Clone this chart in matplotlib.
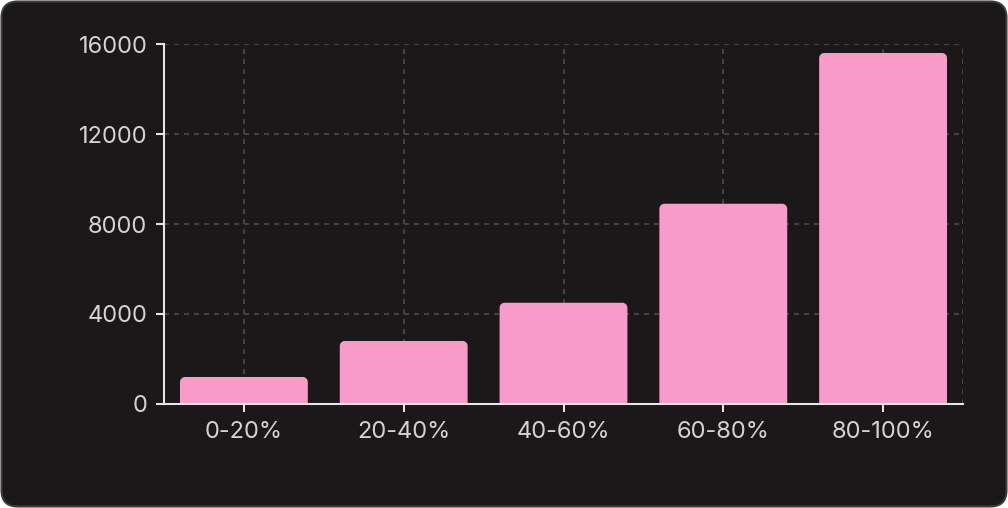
import matplotlib
matplotlib.use("Agg")
import matplotlib.pyplot as plt
from matplotlib.patches import FancyBboxPatch, PathPatch
from matplotlib.path import Path

categories = ["0-20%", "20-40%", "40-60%", "60-80%", "80-100%"]
values = [1200, 2800, 4500, 8900, 15600]
yticks = [0, 4000, 8000, 12000, 16000]

W, H = 1008, 508
fig = plt.figure(figsize=(W / 100, H / 100), dpi=100)
fig.patch.set_facecolor("white")
card = FancyBboxPatch((1.5 / W, 1.5 / H), 1 - 3 / W, 1 - 3 / H,
                      boxstyle="round,pad=0,rounding_size=0.016",
                      transform=fig.transFigure, facecolor="#1b1819",
                      edgecolor="#3d3b3c", linewidth=1.5, zorder=-10,
                      mutation_aspect=W / H)
fig.patches.append(card)

left, right, top, bottom = 164, 963, 44, 404
ax = fig.add_axes([left / W, 1 - bottom / H, (right - left) / W, (bottom - top) / H])
ax.set_zorder(5)
ax.set_facecolor("none")
ax.set_xlim(-0.5, len(categories) - 0.5)
ax.set_ylim(0, 16000)

text_col = "#d4d2d3"
font = "Inter"

# grid
grid_kw = dict(color="#4d4a4b", linewidth=1.2, linestyle=(0, (3, 3)), zorder=1)
for y in yticks[1:]:
    ax.axhline(y, **grid_kw)
for i in range(len(categories)):
    ax.axvline(i, **grid_kw)
ax.axvline(len(categories) - 0.5, **grid_kw)

# bars with rounded top corners
bars = ax.bar(range(len(categories)), values, width=0.8, color="#f99bc9", zorder=2)
fig.canvas.draw()
r_px = 5
inv = ax.transData.inverted()
p0 = inv.transform((0, 0))
p1 = inv.transform((r_px, r_px))
rx, ry = p1[0] - p0[0], p1[1] - p0[1]
k = 0.5523
for b in bars:
    x0, w, h = b.get_x(), b.get_width(), b.get_height()
    x1 = x0 + w
    verts = [(x0, 0), (x0, h - ry),
             (x0, h - ry + k * ry), (x0 + rx - k * rx, h), (x0 + rx, h),
             (x1 - rx, h),
             (x1 - rx + k * rx, h), (x1, h - ry + k * ry), (x1, h - ry),
             (x1, 0), (x0, 0)]
    codes = [Path.MOVETO, Path.LINETO,
             Path.CURVE4, Path.CURVE4, Path.CURVE4,
             Path.LINETO,
             Path.CURVE4, Path.CURVE4, Path.CURVE4,
             Path.LINETO, Path.CLOSEPOLY]
    ax.add_patch(PathPatch(Path(verts, codes), facecolor=b.get_facecolor(),
                           edgecolor="none", zorder=2))
    b.set_visible(False)

for s in ["top", "right"]:
    ax.spines[s].set_visible(False)
for s in ["left", "bottom"]:
    ax.spines[s].set_color("#e6e4e5")
    ax.spines[s].set_linewidth(1.5)
    ax.spines[s].set_zorder(3)

ax.set_xticks(range(len(categories)))
ax.set_xticklabels(categories)
ax.set_yticks(yticks)
ax.set_yticklabels([str(v) for v in yticks])
ax.tick_params(colors="#e6e4e5", labelcolor=text_col, length=6, width=1.5,
               labelsize=17)
ax.tick_params(axis="y", pad=6)
ax.tick_params(axis="x", pad=6)
for lbl in ax.get_xticklabels() + ax.get_yticklabels():
    lbl.set_fontfamily(font)

fig.savefig("out.png", dpi=100, facecolor="white")
